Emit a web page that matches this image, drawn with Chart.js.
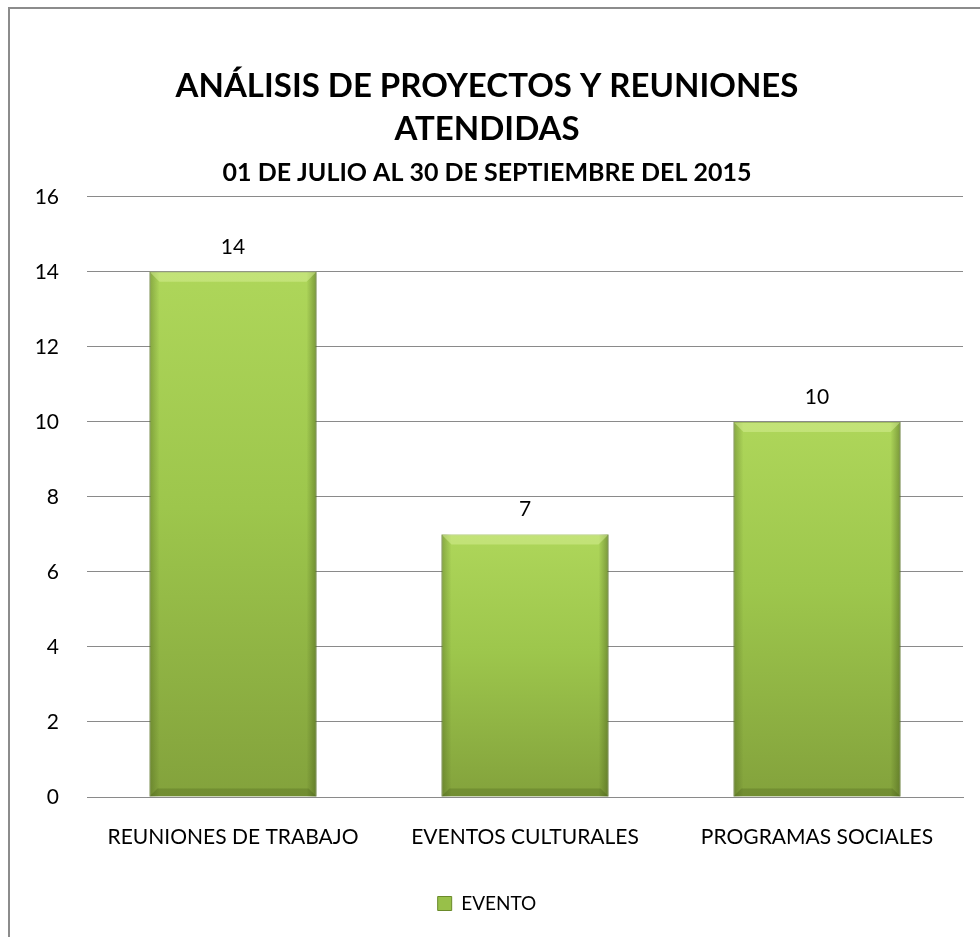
<!DOCTYPE html>
<html>
<head>
<meta charset="utf-8">
<script src="https://cdn.jsdelivr.net/npm/chart.js@4/dist/chart.umd.min.js"></script>
<style>
  html, body { margin: 0; padding: 0; background: #fff; }
  #wrap { position: relative; width: 980px; height: 937px; }
  #frame {
    position: absolute; left: 8px; top: 7px; width: 1000px; height: 1000px;
    border: 2px solid #8c8c8c; box-sizing: border-box; pointer-events: none;
  }
</style>
</head>
<body>
<div id="wrap">
  <canvas id="chart" width="980" height="937"></canvas>
  <div id="frame"></div>
</div>
<script>
const categories = ['REUNIONES DE TRABAJO', 'EVENTOS CULTURALES', 'PROGRAMAS SOCIALES'];
const eventos = [14, 7, 10];
const seriesName = 'EVENTO';
const titleLines = ['ANÁLISIS DE PROYECTOS Y REUNIONES', 'ATENDIDAS'];
const subtitleText = '01 DE JULIO AL 30 DE SEPTIEMBRE DEL 2015';

const FONT = 'Lato, "Open Sans", sans-serif';

// vertical gradient per bar, from its top to the baseline
function barFill(ctx) {
  const chart = ctx.chart;
  const y = chart.scales.y;
  if (!y || ctx.raw === undefined) return '#98bf48';
  const top = y.getPixelForValue(ctx.raw);
  const bottom = y.getPixelForValue(0);
  const g = chart.ctx.createLinearGradient(0, top, 0, bottom);
  g.addColorStop(0, '#aed65a');
  g.addColorStop(0.45, '#9dc64c');
  g.addColorStop(1, '#83a23c');
  return g;
}

// bevel look + value labels on top of the bars
const bevelAndLabels = {
  id: 'bevelAndLabels',
  afterDatasetsDraw(chart) {
    const ctx = chart.ctx;
    const meta = chart.getDatasetMeta(0);
    meta.data.forEach((bar, i) => {
      const p = bar.getProps(['x', 'y', 'base', 'width'], true);
      const l = p.x - p.width / 2, r = p.x + p.width / 2;
      const t = p.y, b = p.base;
      ctx.save();
      // side shading
      const side = ctx.createLinearGradient(l, 0, r, 0);
      side.addColorStop(0, 'rgba(60,80,20,0.35)');
      side.addColorStop(0.06, 'rgba(60,80,20,0)');
      side.addColorStop(0.94, 'rgba(60,80,20,0)');
      side.addColorStop(1, 'rgba(60,80,20,0.45)');
      ctx.fillStyle = side;
      ctx.fillRect(l, t, p.width, b - t);
      // top highlight (bevel)
      ctx.beginPath();
      ctx.moveTo(l, t);
      ctx.lineTo(r, t);
      ctx.lineTo(r - 10, t + 10);
      ctx.lineTo(l + 10, t + 10);
      ctx.closePath();
      ctx.fillStyle = 'rgba(215,240,150,0.5)';
      ctx.fill();
      // bottom darker strip
      ctx.beginPath();
      ctx.moveTo(l, b);
      ctx.lineTo(r, b);
      ctx.lineTo(r - 8, b - 8);
      ctx.lineTo(l + 8, b - 8);
      ctx.closePath();
      ctx.fillStyle = 'rgba(50,70,15,0.22)';
      ctx.fill();
      // value label
      ctx.fillStyle = '#000';
      ctx.font = '21px ' + FONT;
      ctx.textAlign = 'center';
      ctx.textBaseline = 'middle';
      ctx.fillText(String(eventos[i]), p.x, t - 25);
      ctx.restore();
    });
  }
};

new Chart(document.getElementById('chart'), {
  type: 'bar',
  data: {
    labels: categories,
    datasets: [{
      label: seriesName,
      data: eventos,
      backgroundColor: barFill,
      borderColor: '#6a8a2a',
      borderWidth: 1,
      categoryPercentage: 1.0,
      barPercentage: 0.572
    }]
  },
  options: {
    responsive: false,
    animation: false,
    layout: { padding: { left: 11, right: 17, top: 0, bottom: 14 } },
    plugins: {
      title: {
        display: true,
        text: titleLines,
        color: '#000',
        font: { family: FONT, size: 33, weight: 'bold', lineHeight: 1.3 },
        padding: { top: 65, bottom: 0 }
      },
      subtitle: {
        display: true,
        text: subtitleText,
        color: '#000',
        font: { family: FONT, size: 25, weight: 'bold', lineHeight: 1.2 },
        padding: { top: 7, bottom: 9 }
      },
      legend: {
        position: 'bottom',
        labels: {
          color: '#000',
          font: { family: FONT, size: 19 },
          boxWidth: 14,
          boxHeight: 14,
          padding: 10,
          generateLabels() {
            return [{
              text: seriesName,
              fillStyle: '#98c049',
              strokeStyle: '#6a8a2a',
              lineWidth: 1,
              datasetIndex: 0
            }];
          }
        }
      },
      tooltip: { enabled: false }
    },
    scales: {
      x: {
        afterFit(scale) { scale.height = 87; },
        grid: { display: false, drawTicks: false },
        border: { display: true, color: '#8a8a8a', width: 1 },
        ticks: {
          color: '#000',
          font: { family: FONT, size: 21 },
          padding: 28,
          maxRotation: 0
        }
      },
      y: {
        min: 0,
        max: 16,
        afterFit(scale) { scale.width = 76; },
        grid: { color: '#8a8a8a', lineWidth: 1, drawTicks: false },
        border: { display: false },
        ticks: {
          stepSize: 2,
          color: '#000',
          font: { family: FONT, size: 21 },
          padding: 28
        }
      }
    }
  },
  plugins: [bevelAndLabels]
});
</script>
</body>
</html>
